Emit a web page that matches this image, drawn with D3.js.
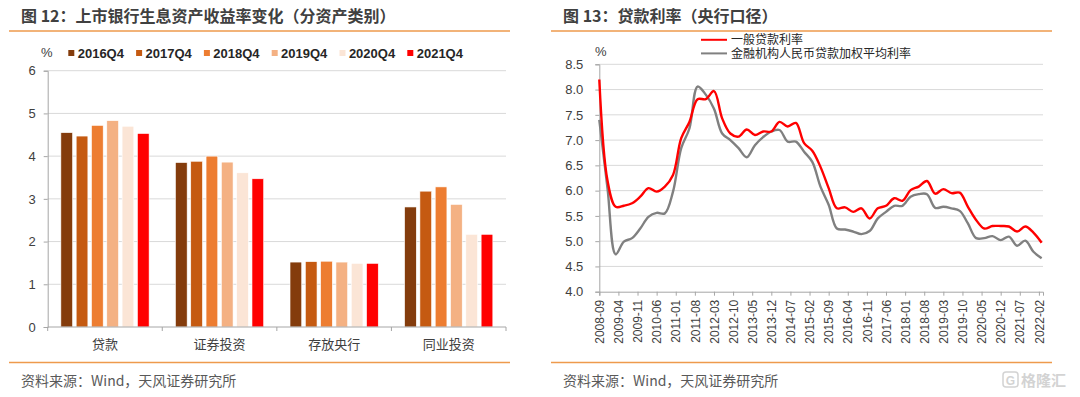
<!DOCTYPE html>
<html lang="zh">
<head>
<meta charset="UTF-8">
<title>上市银行生息资产收益率 / 贷款利率</title>
<script src="https://d3js.org/d3.v7.min.js"></script>
<style>
    body { margin: 0; background: #fff; }
    text { font-family: "Liberation Sans", Arial, "Noto Sans CJK SC", sans-serif; fill: #404040; }
    .cjk { font-family: "Noto Sans CJK SC", sans-serif; }
</style>
</head>
<body>
<script>
// ---- 图12 data ----
var assetTypes = ["贷款", "证券投资", "存放央行", "同业投资"]
var periods = ["2016Q4", "2017Q4", "2018Q4", "2019Q4", "2020Q4", "2021Q4"]
var periodColors = ["#843C0C", "#C55A11", "#ED7D31", "#F4B183", "#FBE5D6", "#FF0000"]
var yield2016Q4 = [4.55, 3.85, 1.52, 2.81]
var yield2017Q4 = [4.47, 3.88, 1.53, 3.18]
var yield2018Q4 = [4.72, 4.00, 1.54, 3.28]
var yield2019Q4 = [4.83, 3.86, 1.52, 2.87]
var yield2020Q4 = [4.70, 3.61, 1.49, 2.17]
var yield2021Q4 = [4.53, 3.47, 1.49, 2.17]
var yieldTicks = [0, 1, 2, 3, 4, 5, 6]

// ---- 图13 data ----
var quarters = [
    "2008-09", "2008-12",
    "2009-03", "2009-06", "2009-09", "2009-12",
    "2010-03", "2010-06", "2010-09", "2010-12",
    "2011-03", "2011-06", "2011-09", "2011-12",
    "2012-03", "2012-06", "2012-09", "2012-12",
    "2013-03", "2013-06", "2013-09", "2013-12",
    "2014-03", "2014-06", "2014-09", "2014-12",
    "2015-03", "2015-06", "2015-09", "2015-12",
    "2016-03", "2016-06", "2016-09", "2016-12",
    "2017-03", "2017-06", "2017-09", "2017-12",
    "2018-03", "2018-06", "2018-09", "2018-12",
    "2019-03", "2019-06", "2019-09", "2019-12",
    "2020-03", "2020-06", "2020-09", "2020-12",
    "2021-03", "2021-06", "2021-09", "2021-12",
    "2022-03"
]
var generalLoanRate = [
    8.20, 6.20, 5.68, 5.70, 5.75, 5.88, 6.05, 5.98, 6.08, 6.31,
    7.04, 7.36, 7.81, 7.81, 7.97, 7.43, 7.13, 7.07, 7.21, 7.10,
    7.17, 7.17, 7.36, 7.27, 7.34, 6.94, 6.79, 6.47, 6.05, 5.65,
    5.67, 5.58, 5.65, 5.45, 5.65, 5.70, 5.85, 5.80, 6.01, 6.08,
    6.19, 5.94, 6.03, 5.95, 5.96, 5.68, 5.42, 5.25, 5.30, 5.30,
    5.29, 5.19, 5.29, 5.17, 4.97
]
var weightedLoanRate = [
    7.40, 6.05, 4.74, 4.99, 5.06, 5.25, 5.48, 5.56, 5.55, 5.98,
    6.84, 7.23, 8.06, 7.90, 7.62, 7.13, 7.00, 6.84, 6.66, 6.90,
    7.06, 7.17, 7.20, 6.97, 6.97, 6.77, 6.57, 6.08, 5.72, 5.25,
    5.23, 5.19, 5.14, 5.20, 5.45, 5.58, 5.70, 5.70, 5.88, 5.93,
    5.93, 5.66, 5.68, 5.65, 5.60, 5.35, 5.06, 5.06, 5.10, 5.02,
    5.09, 4.91, 5.01, 4.79, 4.66
]
var rateSeries = ["一般贷款利率", "金融机构人民币贷款加权平均利率"]
var rateColors = ["#FF0000", "#808080"]
var rateTicks = [4.0, 4.5, 5.0, 5.5, 6.0, 6.5, 7.0, 7.5, 8.0, 8.5]
var dateTicks = ["2008-09", "2009-04", "2009-11", "2010-06", "2011-01", "2011-08",
    "2012-03", "2012-10", "2013-05", "2013-12", "2014-07", "2015-02",
    "2015-09", "2016-04", "2016-11", "2017-06", "2018-01", "2018-08",
    "2019-03", "2019-10", "2020-05", "2020-12", "2021-07", "2022-02"]

var width = 1080
var height = 397
var gridColor = "#d9d9d9"
var axisColor = "#a6a6a6"
var ruleColor = "#EE9A4D"

const svg = d3.select("body")
    .append("svg")
    .attr("width", width)
    .attr("height", height)
    .style("display", "block")

// headers, rules, sources
function frame(x0, x1, title) {
    svg.append("text")
        .attr("class", "cjk")
        .attr("x", x0 + 12)
        .attr("y", 22)
        .attr("font-size", 16)
        .attr("font-weight", "bold")
        .text(title)
    svg.append("line")
        .attr("x1", x0).attr("x2", x1)
        .attr("y1", 31).attr("y2", 31)
        .attr("stroke", ruleColor).attr("stroke-width", 1.5)
    svg.append("line")
        .attr("x1", x0).attr("x2", x1)
        .attr("y1", 362.5).attr("y2", 362.5)
        .attr("stroke", ruleColor).attr("stroke-width", 1.5)
    svg.append("text")
        .attr("class", "cjk")
        .attr("x", x0 + 12)
        .attr("y", 386)
        .attr("font-size", 14)
        .style("fill", "#595959")
        .text("资料来源：Wind，天风证券研究所")
}
frame(9, 510, "图 12：上市银行生息资产收益率变化（分资产类别）")
frame(551, 1052, "图 13：贷款利率（央行口径）")

// ================= 图12: grouped bars =================
var yields = [yield2016Q4, yield2017Q4, yield2018Q4, yield2019Q4, yield2020Q4, yield2021Q4]

var x0 = d3.scaleBand().domain(assetTypes).range([47.7, 506]).padding(0)
var x1 = d3.scaleBand().domain(periods).range([0, x0.bandwidth()])
    .paddingInner(0.235).paddingOuter(0.86)
var yL = d3.scaleLinear().domain([0, 6]).range([327, 70.7])

var left = svg.append("g")

left.selectAll(".grid")
    .data(yieldTicks.slice(1))
    .enter().append("line")
    .attr("x1", 47.7).attr("x2", 506)
    .attr("y1", d => yL(d)).attr("y2", d => yL(d))
    .attr("stroke", gridColor)

left.append("g")
    .attr("transform", "translate(47.7,0)")
    .call(d3.axisLeft(yL).tickValues(yieldTicks).tickFormat(d3.format("d")).tickSize(4).tickPadding(8))
    .call(g => g.select(".domain").attr("stroke", axisColor))
    .call(g => g.selectAll(".tick line").attr("stroke", axisColor))
    .call(g => g.selectAll(".tick text").attr("font-size", 13).attr("font-family", null).style("fill", "#404040"))

periods.forEach(function (p, i) {
    left.selectAll(".bar" + i)
        .data(yields[i])
        .enter().append("rect")
        .attr("x", (d, j) => x0(assetTypes[j]) + x1(p))
        .attr("y", d => yL(d))
        .attr("width", x1.bandwidth())
        .attr("height", d => yL(0) - yL(d))
        .attr("fill", periodColors[i])
        .attr("stroke", "#fff")
        .attr("stroke-width", 0.6)
})

// x axis with boundary ticks
left.append("line")
    .attr("x1", 47.7).attr("x2", 506)
    .attr("y1", yL(0)).attr("y2", yL(0))
    .attr("stroke", axisColor)
left.selectAll(".bound")
    .data(assetTypes.concat([null]))
    .enter().append("line")
    .attr("x1", d => d ? x0(d) : x0.range()[1])
    .attr("x2", d => d ? x0(d) : x0.range()[1])
    .attr("y1", yL(0)).attr("y2", yL(0) + 4)
    .attr("stroke", axisColor)
left.selectAll(".cat")
    .data(assetTypes)
    .enter().append("text")
    .attr("class", "cjk")
    .attr("x", d => x0(d) + x0.bandwidth() / 2)
    .attr("y", yL(0) + 22)
    .attr("text-anchor", "middle")
    .attr("font-size", 13)
    .text(d => d)

left.append("text")
    .attr("x", 41).attr("y", 57)
    .attr("font-size", 13)
    .text("%")

var leg = left.selectAll(".leg")
    .data(periods)
    .enter().append("g")
    .attr("transform", (d, i) => "translate(" + (68.3 + i * 67.8) + ",0)")
leg.append("rect")
    .attr("x", 0).attr("y", 50)
    .attr("width", 6).attr("height", 6)
    .attr("fill", (d, i) => periodColors[i])
leg.append("text")
    .attr("x", 9.4).attr("y", 57.5)
    .attr("font-size", 13)
    .attr("font-weight", "bold")
    .style("fill", "#262626")
    .text(d => d)

// ================= 图13: smoothed lines =================
function monthIndex(s) {
    return (+s.slice(0, 4) - 2008) * 12 + (+s.slice(5, 7)) - 9
}
var xR = d3.scaleLinear().domain([0, 162.5]).range([599.3, 1043])
var yR = d3.scaleLinear().domain([4, 8.5]).range([291.7, 64.3])

var right = svg.append("g")

right.selectAll(".grid")
    .data(rateTicks.slice(1))
    .enter().append("line")
    .attr("x1", 599.3).attr("x2", 1043)
    .attr("y1", d => yR(d)).attr("y2", d => yR(d))
    .attr("stroke", gridColor)

right.append("g")
    .attr("transform", "translate(599.3,0)")
    .call(d3.axisLeft(yR).tickValues(rateTicks).tickFormat(d3.format(".1f")).tickSize(4).tickPadding(12))
    .call(g => g.select(".domain").attr("stroke", axisColor))
    .call(g => g.selectAll(".tick line").attr("stroke", axisColor))
    .call(g => g.selectAll(".tick text").attr("font-size", 13).attr("font-family", null).style("fill", "#404040"))

right.append("g")
    .attr("transform", "translate(0," + yR(4) + ")")
    .call(d3.axisBottom(xR).tickValues(dateTicks.map(monthIndex)).tickFormat((d, i) => dateTicks[i]).tickSize(4).tickPadding(0))
    .call(g => g.select(".domain").attr("stroke", axisColor))
    .call(g => g.selectAll(".tick line").attr("stroke", axisColor))
    .call(g => g.selectAll(".tick text")
        .attr("font-size", 12).attr("font-family", null).style("fill", "#404040")
        .attr("text-anchor", "end")
        .attr("transform", "translate(0,8) rotate(-90)")
        .attr("x", 0).attr("y", 0).attr("dy", "0.35em"))

var line = d3.line()
    .x((d, i) => xR(monthIndex(quarters[i])))
    .y(d => yR(d))
    .curve(d3.curveCatmullRom.alpha(0.5))

;[weightedLoanRate, generalLoanRate].forEach(function (s, k) {
    right.append("path")
        .datum(s)
        .attr("d", line)
        .attr("fill", "none")
        .attr("stroke", k == 0 ? rateColors[1] : rateColors[0])
        .attr("stroke-width", 2.4)
        .attr("stroke-linejoin", "round")
})

right.append("text")
    .attr("x", 595).attr("y", 56)
    .attr("font-size", 13)
    .text("%")

// legend: Liberation Sans first so the line box stays tight, CJK glyphs fall back
rateSeries.forEach(function (name, i) {
    var ly = 39.8 + i * 13.6
    right.append("line")
        .attr("x1", 701).attr("x2", 727)
        .attr("y1", ly).attr("y2", ly)
        .attr("stroke", rateColors[i]).attr("stroke-width", 2)
    right.append("text")
        .attr("x", 731).attr("y", ly + 4.3)
        .attr("font-size", 12)
        .style("fill", "#262626")
        .text(name)
})

// watermark
var wm = svg.append("g").attr("opacity", 0.55)
wm.append("rect")
    .attr("x", 1003).attr("y", 372).attr("width", 15).attr("height", 15).attr("rx", 3)
    .attr("fill", "none").attr("stroke", "#b0b0b0").attr("stroke-width", 1.5)
wm.append("text")
    .attr("x", 1010.5).attr("y", 384.5).attr("text-anchor", "middle")
    .attr("font-size", 12).attr("font-weight", "bold").style("fill", "#b0b0b0")
    .text("G")
wm.append("text")
    .attr("class", "cjk")
    .attr("x", 1021).attr("y", 386)
    .attr("font-size", 15).attr("font-weight", "bold").style("fill", "#b0b0b0")
    .text("格隆汇")
</script>
</body>
</html>
